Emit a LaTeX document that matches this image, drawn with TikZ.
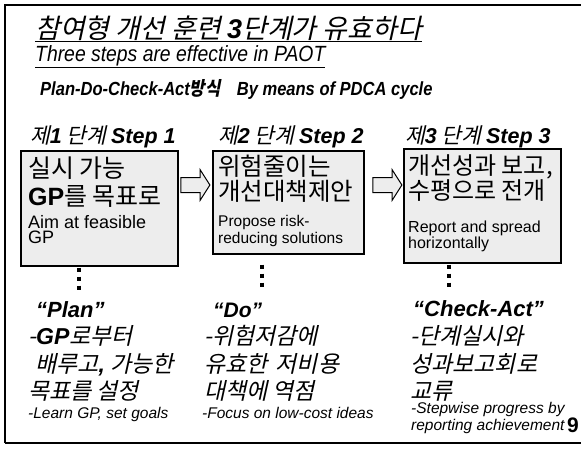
\documentclass[tikz,border=0pt]{standalone}
\usepackage{fontspec}
\setmainfont{Liberation Sans}
\newfontfamily\kofont{Noto Sans CJK KR}
\newfontfamily\koslant[FakeSlant=0.22]{Noto Sans CJK KR}
\usetikzlibrary{shapes.arrows,positioning}

\newcommand{\fs}[1]{\fontsize{#1}{#1}\selectfont}
\newcommand{\bi}[1]{{\normalfont\bfseries\itshape #1}}

\tikzset{
  stepbox/.style={draw, line width=1.6pt, fill=gray!14, inner sep=0pt, anchor=north west},
  txt/.style={anchor=base west, inner sep=0pt},
  dotline/.style={line width=4pt, dash pattern=on 4pt off 5pt},
  hollow/.style={single arrow, draw, line width=1pt, fill=gray!14, inner xsep=0pt, inner ysep=7pt,
    minimum height=29pt, single arrow head extend=8pt, single arrow tip angle=115}
}

\begin{document}
\begin{tikzpicture}[x=1pt,y=-1pt]
    \useasboundingbox (0,0) rectangle (581,448);

    % Frame
    \draw[line width=2.6pt] (5,443) -- (5,5) -- (581,5);
    \draw[line width=1.6pt] (5,443) -- (581,443);

    % Headings
    \node[txt] (title) at (35,38) {\koslant\fs{27}\underline{참여형 개선 훈련 \bi{3}단계가 유효하다}};
    \node[txt] (subtitle) at (35,61) {\scalebox{0.88}[1]{\itshape\fs{22}\underline{Three steps are effective in PAOT}}};
    \node[txt] (pdca) at (40,95) {\scalebox{0.87}[1]{\bfseries\itshape\fs{19}Plan-Do-Check-Act{\koslant 방식}\quad By means of PDCA cycle}};

    % Step labels
    \node[txt] (lab1) at (30,143) {\koslant\fs{21.5}제\bi{1} 단계 \bi{Step 1}};
    \node[txt] (lab2) at (218,143) {\koslant\fs{21.5}제\bi{2} 단계 \bi{Step 2}};
    \node[txt] (lab3) at (405,143) {\koslant\fs{21.5}제\bi{3} 단계 \bi{Step 3}};

    % Step boxes
    \node[stepbox, minimum width=157pt, minimum height=115pt] (box1) at (20,150) {};
    \node[stepbox, minimum width=151pt, minimum height=103pt] (box2) at (212,150) {};
    \node[stepbox, minimum width=157pt, minimum height=114pt] (box3) at (403,148) {};

    % Box 1
    \node[txt] (b1l1) at (28,177) {\kofont\fs{25}실시 가능};
    \node[txt] (b1l2) at (28,205) {\kofont\fs{25}{\normalfont\bfseries GP}를 목표로};
    \node[txt] (b1l3) at (28,228) {\fs{18}Aim at feasible};
    \node[txt] (b1l4) at (28,243) {\fs{18}GP};

    % Box 2
    \node[txt] (b2l1) at (218,175) {\kofont\fs{24.5}위험줄이는};
    \node[txt] (b2l2) at (218,200) {\kofont\fs{24.5}개선대책제안};
    \node[txt] (b2l3) at (218,226) {\fs{15.5}Propose risk-};
    \node[txt] (b2l4) at (218,243) {\fs{15.5}reducing solutions};

    % Box 3
    \node[txt] (b3l1) at (408,174) {\kofont\fs{24}개선성과 보고,};
    \node[txt] (b3l2) at (408,199) {\kofont\fs{24}수평으로 전개};
    \node[txt] (b3l3) at (408,232) {\fs{16}Report and spread};
    \node[txt] (b3l4) at (408,248) {\fs{16}horizontally};

    % Arrows between steps
    \node[hollow] (arr1) at (193,185) {};
    \node[hollow] (arr2) at (385,185) {};

    % Dotted links
    \draw[dotline] (box1.south west) ++(59,1) -- ++(0,22);
    \draw[dotline] (box2.south west) ++(50,10) -- ++(0,23);
    \draw[dotline] (box3.south west) ++(46,1) -- ++(0,23);

    % Column 1: Plan
    \node[txt] (plan) at (36,317) {\bi{\fs{22}“Plan”}};
    \node[txt] (c1l1) at (28,344) {\koslant\fs{23}-\bi{GP}로부터};
    \node[txt] (c1l2) at (35,372) {\koslant\fs{23}배루고\bi{,} 가능한};
    \node[txt] (c1l3) at (28,399) {\koslant\fs{23}목표를 설정};
    \node[txt] (c1l4) at (28,418) {\itshape\fs{15.5}-Learn GP, set goals};

    % Column 2: Do
    \node[txt] (do) at (213,317) {\bi{\fs{21}“Do”}};
    \node[txt] (c2l1) at (204,344) {\koslant\fs{23}-위험저감에};
    \node[txt] (c2l2) at (204,372) {\koslant\fs{23}유효한\hspace{0.35em}저비용};
    \node[txt] (c2l3) at (204,399) {\koslant\fs{23}대책에 역점};
    \node[txt] (c2l4) at (202,418) {\itshape\fs{15.5}-Focus on low-cost ideas};

    % Column 3: Check-Act
    \node[txt] (act) at (413,316) {\bi{\fs{22}“Check-Act”}};
    \node[txt] (c3l1) at (410,344) {\koslant\fs{23}-단계실시와};
    \node[txt] (c3l2) at (410,372) {\koslant\fs{23}성과보고회로};
    \node[txt] (c3l3) at (410,399) {\koslant\fs{23}교류};
    \node[txt] (c3l4) at (411,413) {\itshape\fs{15.5}-Stepwise progress by};
    \node[txt] (c3l5) at (411,430) {\itshape\fs{15.5}reporting achievement};

    % Page number
    \node[txt] (page) at (567,432) {\bfseries\fs{21}9};

\end{tikzpicture}
\end{document}
